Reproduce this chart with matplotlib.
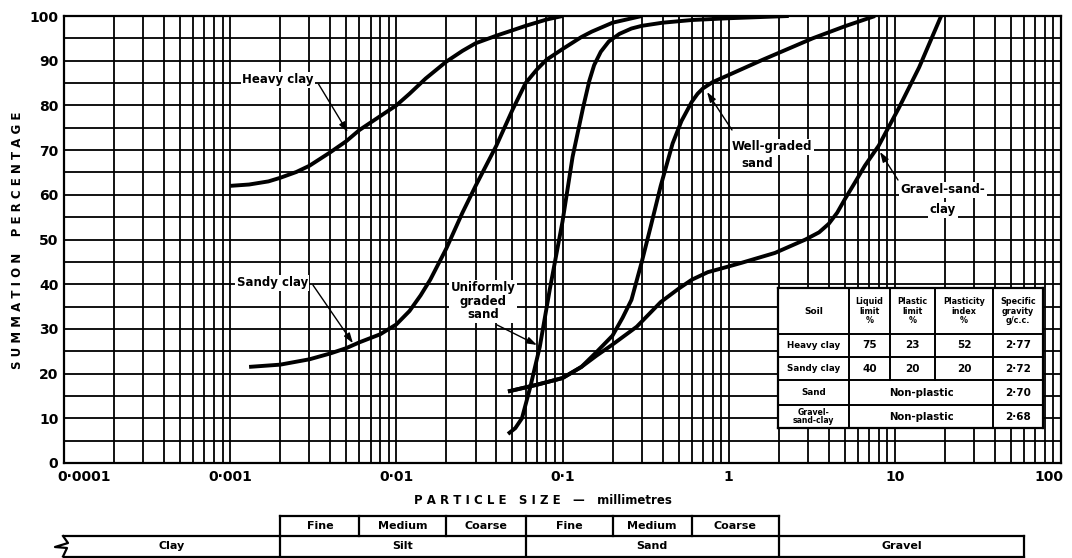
import matplotlib
matplotlib.use('Agg')
import matplotlib.pyplot as plt
from matplotlib import transforms
from matplotlib.ticker import NullFormatter

plt.rcParams['font.family'] = ['DejaVu Sans']
plt.rcParams['font.weight'] = 'bold'

# ---------------- data ----------------
heavy_d = [0.001, 0.0013, 0.0017, 0.002, 0.0025, 0.003, 0.004, 0.005, 0.006, 0.008, 0.01,
           0.012, 0.015, 0.02, 0.025, 0.03, 0.04, 0.05, 0.06, 0.08, 0.1]
heavy_p = [62, 62.3, 63, 63.8, 65.1, 66.5, 69.5, 72, 74.5, 77.6, 80,
           82.6, 86, 89.8, 92.2, 93.9, 95.6, 96.8, 97.8, 99.2, 100]

sandy_d = [0.0013, 0.002, 0.003, 0.004, 0.005, 0.006, 0.008, 0.01, 0.012, 0.014, 0.016, 0.02,
           0.025, 0.03, 0.04, 0.05, 0.06, 0.07, 0.08, 0.1, 0.13, 0.15, 0.2, 0.3]
sandy_p = [21.5, 22, 23.2, 24.5, 25.7, 27, 28.8, 31, 34, 37.5, 41, 48,
           56, 62, 71, 79, 85, 88, 90.2, 92.6, 95.3, 96.5, 98.5, 100]

uniform_d = [0.047, 0.052, 0.057, 0.064, 0.073, 0.084, 0.1, 0.115, 0.133, 0.145, 0.155, 0.17,
             0.19, 0.22, 0.26, 0.3, 0.4, 0.6, 1.0, 2.3]
uniform_p = [6.5, 7.8, 10, 17, 26, 39, 54, 68.5, 79.5, 85.5, 89, 92,
             94.3, 96, 97.2, 97.8, 98.5, 99.1, 99.5, 100]

well_d = [0.047, 0.07, 0.1, 0.13, 0.16, 0.2, 0.23, 0.26, 0.3, 0.34, 0.39, 0.46, 0.52, 0.6,
          0.65, 0.7, 0.8, 1.0, 1.6, 3.2, 5.0, 7.6]
well_p = [16, 17.5, 19, 21.5, 24.8, 28.5, 32.5, 36.5, 45, 53, 62, 71.5, 76.5, 80.8,
          82.6, 83.8, 85.2, 86.8, 90.2, 95, 97.7, 100]

gsc_d = [0.047, 0.07, 0.1, 0.13, 0.16, 0.2, 0.28, 0.39, 0.5, 0.6, 0.75, 0.9, 1.2, 1.9, 2.9,
         3.5, 4.0, 4.5, 5.0, 5.7, 6.6, 8.0, 10.6, 14, 19]
gsc_p = [16, 17.5, 19, 21.5, 24, 26.5, 30.5, 36, 39, 41, 42.7, 43.5, 44.8, 47, 50,
         51.6, 53.5, 56, 59, 62.5, 66.5, 71, 79.5, 88.5, 100]

x_ticks = [1e-4, 1e-3, 1e-2, 1e-1, 1, 10, 100]
x_tick_labels = ['0·0001', '0·001', '0·01', '0·1', '1', '10', '100']
y_ticks = list(range(0, 101, 10))
y_tick_labels = [str(v) for v in y_ticks]

table_soils = ['Heavy clay', 'Sandy clay', 'Sand', 'Gravel-\nsand-clay']
liquid_limit = ['75', '40']
plastic_limit = ['23', '20']
plasticity_index = ['52', '20']
specific_gravity = ['2·77', '2·72', '2·70', '2·68']
table_headers = ['Soil', 'Liquid\nlimit\n%', 'Plastic\nlimit\n%', 'Plasticity\nindex\n%',
                 'Specific\ngravity\ng/c.c.']

main_classes = ['Clay', 'Silt', 'Sand', 'Gravel']
main_bounds = [1e-4, 0.002, 0.06, 2, 60]
sub_classes = ['Fine', 'Medium', 'Coarse', 'Fine', 'Medium', 'Coarse']
sub_bounds = [0.002, 0.006, 0.02, 0.06, 0.2, 0.6, 2]

# ---------------- figure ----------------
W, H = 1072, 558
fig = plt.figure(figsize=(W / 100, H / 100), dpi=100)
L, R, T, B = 64, 1061, 16, 463
ax = fig.add_axes([L / W, 1 - B / H, (R - L) / W, (B - T) / H])
ax.set_xscale('log')
ax.set_xlim(1e-4, 100)
ax.set_ylim(0, 100)

minor = [m * 10.0 ** e for e in range(-4, 2) for m in range(2, 10)]
ax.set_xticks(x_ticks)
ax.set_xticks(minor, minor=True)
ax.xaxis.set_minor_formatter(NullFormatter())
ax.set_xticklabels([])
ax.set_yticks(y_ticks)
ax.set_yticks(list(range(5, 100, 10)), minor=True)
ax.set_yticklabels(y_tick_labels, fontsize=10, fontweight='bold')
ax.tick_params(which='both', length=0)
ax.tick_params(axis='y', pad=4)
ax.grid(True, which='both', color='black', lw=1.3)
for s in ax.spines.values():
    s.set_linewidth(1.6)

# x tick labels as text
for i, (xv, lab) in enumerate(zip(x_ticks, x_tick_labels)):
    dx = 20 if i == 0 else (-12 if i == len(x_ticks) - 1 else 0)
    tr = transforms.offset_copy(ax.get_xaxis_transform(), fig=fig, x=dx, y=-14, units='dots')
    ax.text(xv, 0, lab, transform=tr, ha='center', va='center', fontsize=10, fontweight='bold')

fig.text(543 / W, 1 - 500 / H, 'P A R T I C L E   S I Z E   —   millimetres', ha='center', va='center',
         fontsize=8.5, fontweight='bold')
fig.text(18 / W, 1 - 240 / H, 'S U M M A T I O N    P E R C E N T A G E', rotation=90, ha='center',
         va='center', fontsize=8.5, fontweight='bold')

# curves
for d, p in [(heavy_d, heavy_p), (sandy_d, sandy_p), (uniform_d, uniform_p),
             (well_d, well_p), (gsc_d, gsc_p)]:
    ax.plot(d, p, color='black', lw=2.8, zorder=4, solid_capstyle='butt', solid_joinstyle='round')

# labels
bb = dict(facecolor='white', edgecolor='none', pad=1.2)
lab_kw = dict(fontsize=8.5, fontweight='bold', zorder=6, bbox=bb)
arr = dict(arrowstyle='-|>,head_length=0.6,head_width=0.2', color='black', lw=1.0,
           shrinkA=0, shrinkB=0)

ax.text(0.00194, 85.7, 'Heavy clay', ha='center', va='center', **lab_kw)
ax.annotate('', xy=(0.0051, 74), xytext=(0.0034, 84.8), arrowprops=arr, zorder=5)

ax.text(0.00179, 40.3, 'Sandy clay', ha='center', va='center', **lab_kw)
ax.annotate('', xy=(0.00548, 26.8), xytext=(0.00315, 39.8), arrowprops=arr, zorder=5)

ax.text(0.0332, 36.2, 'Uniformly\ngraded\nsand', ha='center', va='center', linespacing=1.05, **lab_kw)
ax.annotate('', xy=(0.0702, 26.4), xytext=(0.0403, 30.9), arrowprops=arr, zorder=5)

ax.text(1.047, 70.7, 'Well-graded', ha='left', va='center', **lab_kw)
ax.text(1.186, 67.1, 'sand', ha='left', va='center', **lab_kw)
ax.annotate('', xy=(0.741, 83), xytext=(1.047, 74.5), arrowprops=arr, zorder=5)

ax.text(19.5, 61.1, 'Gravel-sand-', ha='center', va='center', **lab_kw)
ax.text(19.5, 56.6, 'clay', ha='center', va='center', **lab_kw)
ax.annotate('', xy=(8.14, 69.6), xytext=(10.45, 63.3), arrowprops=arr, zorder=5)

# ---------------- inset properties table ----------------
tx0, tx1, ty0, ty1 = 778, 1043, 288, 428
axt = fig.add_axes([tx0 / W, 1 - ty1 / H, (tx1 - tx0) / W, (ty1 - ty0) / H])
axt.set_xlim(0, tx1 - tx0)
axt.set_ylim(ty1 - ty0, 0)
axt.set_xticks([]); axt.set_yticks([])
axt.set_facecolor('white')
for s in axt.spines.values():
    s.set_linewidth(1.6)
cx = [0, 71, 112, 157, 215, 265]
ry = [0, 46, 69, 92, 117, 140]
lkw = dict(color='black', lw=1.4)
for x in (cx[1], cx[4]):
    axt.plot([x, x], [0, 140], **lkw)
for x in (cx[2], cx[3]):
    axt.plot([x, x], [0, ry[3]], **lkw)
for y in ry[1:5]:
    axt.plot([0, 265], [y, y], **lkw)

def ccx(i, j=None):
    j = i + 1 if j is None else j
    return (cx[i] + cx[j]) / 2

def ccy(i):
    return (ry[i] + ry[i + 1]) / 2

axt.text(ccx(0), ccy(0), table_headers[0], ha='center', va='center', fontsize=6.5, fontweight='bold')
for i in range(1, 5):
    axt.text(ccx(i), ccy(0), table_headers[i], ha='center', va='center', fontsize=5.8,
             fontweight='bold', linespacing=1.05)
for r in range(4):
    fs = 6.3 if r < 3 else 5.6
    axt.text(ccx(0), ccy(r + 1), table_soils[r], ha='center', va='center', fontsize=fs,
             fontweight='bold', linespacing=0.9)
    axt.text(ccx(4), ccy(r + 1), specific_gravity[r], ha='center', va='center', fontsize=7.5,
             fontweight='bold')
for r in range(2):
    for c, vals in zip((1, 2, 3), (liquid_limit, plastic_limit, plasticity_index)):
        axt.text(ccx(c), ccy(r + 1), vals[r], ha='center', va='center', fontsize=7.5,
                 fontweight='bold')
for r in (2, 3):
    axt.text(ccx(1, 4), ccy(r + 1), 'Non-plastic', ha='center', va='center', fontsize=7.3,
             fontweight='bold')

# ---------------- bottom classification bar ----------------
axb = fig.add_axes([L / W, 0, (R - L) / W, 43 / H])
axb.set_xscale('log')
axb.set_xlim(1e-4, 100)
axb.set_ylim(558, 515)
axb.axis('off')
yt, ym, yb = 516, 536, 556.5
bk = dict(color='black', lw=1.6, clip_on=False)
axb.plot([sub_bounds[0], sub_bounds[-1]], [yt, yt], **bk)
for xv in sub_bounds:
    axb.plot([xv, xv], [yt, ym], **bk)
axb.plot([main_bounds[0], main_bounds[-1]], [ym, ym], **bk)
axb.plot([main_bounds[0], main_bounds[-1]], [yb, yb], **bk)
for xv in main_bounds[1:]:
    axb.plot([xv, xv], [ym, yb], **bk)
# break symbol on left end of clay cell
dec = (R - L) / 6.0
def px2d(px):
    return 10 ** ((px - L) / dec - 4)
axb.plot([px2d(63), px2d(68), px2d(55), px2d(67), px2d(63)], [ym, 543, 547, 548, yb], **bk)

for i, name in enumerate(sub_classes):
    xc = (sub_bounds[i] * sub_bounds[i + 1]) ** 0.5
    axb.text(xc, (yt + ym) / 2, name, ha='center', va='center', fontsize=8, fontweight='bold')
for i, name in enumerate(main_classes):
    xc = (main_bounds[i] * main_bounds[i + 1]) ** 0.5
    axb.text(xc, (ym + yb) / 2, name, ha='center', va='center', fontsize=8, fontweight='bold')

fig.savefig('out.png', dpi=100)
